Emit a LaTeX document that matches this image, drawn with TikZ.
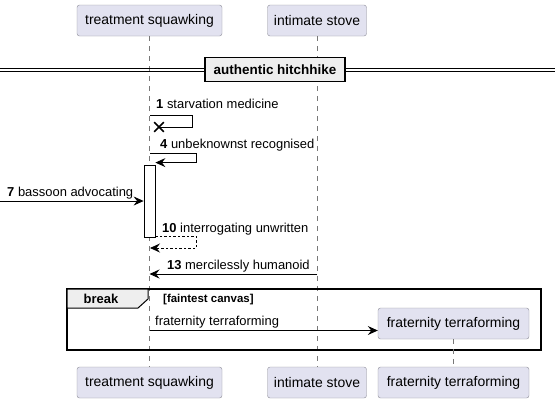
\documentclass[tikz,border=0pt]{standalone}
\usepackage{fontspec}
\setmainfont{Liberation Sans}
\usepackage{tikz}
\usetikzlibrary{arrows.meta, shapes.misc, calc}
\definecolor{partfill}{RGB}{226, 226, 240}
\definecolor{partline}{RGB}{140, 140, 150}
\definecolor{grpfill}{RGB}{238, 238, 238}
\definecolor{lifegray}{RGB}{120, 120, 120}

\tikzset{
  part/.style={draw=partline, fill=partfill, rounded corners=2.5bp, minimum height=31bp, inner xsep=4bp, font=\fontsize{14}{16}\selectfont},
  lifeline/.style={draw=lifegray, dash pattern=on 5bp off 5bp, line width=0.5bp},
  msg/.style={draw=black, line width=0.8bp, -{Stealth[length=10bp, width=9bp, inset=3.5bp]}},
  label/.style={anchor=base west, inner sep=0pt, font=\fontsize{13}{15}\selectfont},
}

\begin{document}
\begin{tikzpicture}[x=1bp, y=-1bp]
  \useasboundingbox (0, 0) rectangle (555, 403);

  % participants
  \node [part, minimum width=145bp] (ts) at (149.5, 20.5) {treatment squawking};
  \node [part, minimum width=99bp] (is) at (317, 20.5) {intimate stove};
  \node [part, minimum width=145bp] (tsb) at (149.5, 382.5) {treatment squawking};
  \node [part, minimum width=99bp] (isb) at (317, 382.5) {intimate stove};
  \node [part, minimum width=151bp] (ftb) at (453.5, 382.5) {fraternity terraforming};

  \draw [lifeline] (ts.south) -- (tsb.north);
  \draw [lifeline] (is.south) -- (isb.north);

  % divider
  \draw [line width=1bp] (0, 68) -- (555, 68);
  \draw [line width=1bp] (0, 71) -- (555, 71);
  \node [draw, fill=grpfill, line width=1.6bp, minimum width=140bp, minimum height=24bp, inner sep=0pt, font=\bfseries\fontsize{13.5}{15}\selectfont] (div) at (275, 69.5) {authentic hitchhike};

  % 1
  \node [label] (t1) at (156, 108) {\textbf{1} starvation medicine};
  \coordinate (m1) at (150, 115);
  \node [draw, cross out, line width=1.6bp, minimum size=8bp, inner sep=0pt] (m1x) at (159, 127) {};
  \draw [line width=0.8bp] (m1) -- ++(42, 0) |- (m1x.center);

  % 4
  \node [label] (t4) at (160, 148) {\textbf{4} unbeknownst recognised};
  \node [draw, fill=white, line width=0.8bp, minimum width=11bp, minimum height=72bp, inner sep=0pt] (act) at (149.5, 201) {};
  \coordinate (m4) at (150, 153);
  \draw [msg] (m4) -- ++(46, 0) |- ($(act.north east) + (0, -2)$);

  % 7
  \coordinate (m7) at (0, 201);
  \node [label] (t7) at (7, 196) {\textbf{7} bassoon advocating};
  \draw [msg] (m7) -- (act.west);

  % 10
  \node [label] (t10) at (162, 232) {\textbf{10} interrogating unwritten};
  \coordinate (m10) at (150, 248);
  \draw [msg, dash pattern=on 2.5bp off 2bp] ($(act.south east) + (0, -1)$) -- ++(41, 0) |- (m10);

  % 13
  \node [label] (t13) at (167, 269) {\textbf{13} mercilessly humanoid};
  \draw [msg] (is |- 0, 274) -- (ts |- 0, 274);

  % break group
  \draw [line width=1.6bp] (67, 289) rectangle (541, 350);
  \draw [fill=grpfill, line width=1bp] (67, 289) -- (148, 289) -- (148, 299) -- (138, 308) -- (67, 308) -- cycle;
  \node [font=\bfseries\fontsize{13}{15}\selectfont, inner sep=0pt] (brk) at (101, 298.5) {break};
  \node [anchor=base west, inner sep=0pt, font=\bfseries\fontsize{11.5}{13}\selectfont] (cond) at (163, 302.5) {[faintest canvas]};

  \node [part, minimum width=151bp] (ft) at (453.5, 323.5) {fraternity terraforming};
  \draw [lifeline] (ft.south) -- (ftb.north);
  \node [label] (tft) at (155, 325) {fraternity terraforming};
  \draw [msg] (ts |- 0, 330.5) -- (ft.west |- 0, 330.5);
\end{tikzpicture}
\end{document}
